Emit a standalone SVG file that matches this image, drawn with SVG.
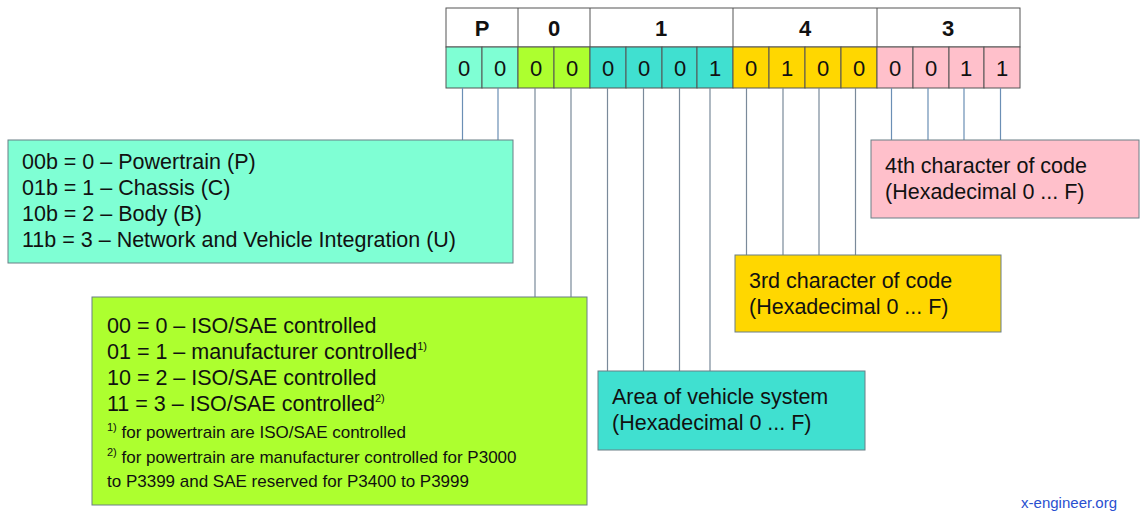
<svg xmlns="http://www.w3.org/2000/svg" width="1146" height="517" viewBox="0 0 1146 517">
<style>
text{font-family:"Liberation Sans",Arial,sans-serif;fill:#111}
.h{font-size:22px;font-weight:bold;text-anchor:middle}
.b{font-size:22px;text-anchor:middle}
.t{font-size:21.5px}
.f{font-size:17px}
.s{font-size:11px}
.c{stroke:#555;stroke-width:1}
.bx{stroke:#6a7f86;stroke-width:1}
.l{stroke:#7a8a9a;stroke-width:1.2;fill:none}
.lb{stroke:#6b8fb5;stroke-width:1.2;fill:none}
</style>
<rect width="1146" height="517" fill="#fff"/>
<g id="table">
<rect x="446" y="8" width="574" height="39" fill="#fff" class="c"/>
<line x1="518" y1="8" x2="518" y2="47" class="c"/><line x1="590" y1="8" x2="590" y2="47" class="c"/><line x1="733" y1="8" x2="733" y2="47" class="c"/><line x1="877" y1="8" x2="877" y2="47" class="c"/>
<text x="482" y="36" class="h">P</text><text x="554" y="36" class="h">0</text><text x="661" y="36" class="h">1</text><text x="805" y="36" class="h">4</text><text x="948" y="36" class="h">3</text>
<g class="c">
<rect x="446" y="47" width="36" height="41" fill="#7fffd4"/><rect x="482" y="47" width="36" height="41" fill="#7fffd4"/>
<rect x="518" y="47" width="36" height="41" fill="#adff2f"/><rect x="554" y="47" width="36" height="41" fill="#adff2f"/>
<rect x="590" y="47" width="36" height="41" fill="#40e0d0"/><rect x="626" y="47" width="36" height="41" fill="#40e0d0"/><rect x="662" y="47" width="35" height="41" fill="#40e0d0"/><rect x="697" y="47" width="36" height="41" fill="#40e0d0"/>
<rect x="733" y="47" width="36" height="41" fill="#ffd700"/><rect x="769" y="47" width="36" height="41" fill="#ffd700"/><rect x="805" y="47" width="36" height="41" fill="#ffd700"/><rect x="841" y="47" width="36" height="41" fill="#ffd700"/>
<rect x="877" y="47" width="36" height="41" fill="#ffc0cb"/><rect x="913" y="47" width="36" height="41" fill="#ffc0cb"/><rect x="949" y="47" width="35" height="41" fill="#ffc0cb"/><rect x="984" y="47" width="36" height="41" fill="#ffc0cb"/>
</g>
<g class="b" text-anchor="middle">
<text x="464" y="76" class="b">0</text><text x="500" y="76" class="b">0</text><text x="536" y="76" class="b">0</text><text x="572" y="76" class="b">0</text>
<text x="608" y="76" class="b">0</text><text x="644" y="76" class="b">0</text><text x="680" y="76" class="b">0</text><text x="715" y="76" class="b">1</text>
<text x="751" y="76" class="b">0</text><text x="787" y="76" class="b">1</text><text x="823" y="76" class="b">0</text><text x="859" y="76" class="b">0</text>
<text x="895" y="76" class="b">0</text><text x="931" y="76" class="b">0</text><text x="966" y="76" class="b">1</text><text x="1002" y="76" class="b">1</text>
</g>
</g>
<g id="connectors">
<path class="lb" d="M462.5 88V140M498 88V140M891.5 88V140M928 88V140M964 88V140M1000.5 88V140"/>
<path class="l" d="M535 88V297M571 88V297M607.5 88V371M643.5 88V371M679.5 88V371M710 88V371M746.5 88V255M783 88V255M819 88V255M855.5 88V255"/>
</g>
<g id="type">
<rect x="8" y="140" width="505" height="123" fill="#7fffd4" class="bx"/>
<text x="22" y="169" class="t">00b = 0 – Powertrain (P)</text>
<text x="22" y="195" class="t">01b = 1 – Chassis (C)</text>
<text x="22" y="221" class="t">10b = 2 – Body (B)</text>
<text x="22" y="247" class="t">11b = 3 – Network and Vehicle Integration (U)</text>
</g>
<g id="control">
<rect x="92" y="297" width="495" height="208" fill="#adff2f" class="bx"/>
<text x="107" y="333" class="t">00 = 0 – ISO/SAE controlled</text>
<text x="107" y="359" class="t">01 = 1 – manufacturer controlled<tspan class="s" dy="-9">1)</tspan></text>
<text x="107" y="385" class="t">10 = 2 – ISO/SAE controlled</text>
<text x="107" y="411" class="t">11 = 3 – ISO/SAE controlled<tspan class="s" dy="-9">2)</tspan></text>
<text x="107" y="438" class="f"><tspan class="s" dy="-7">1)</tspan><tspan dy="7"> for powertrain are ISO/SAE controlled</tspan></text>
<text x="107" y="463" class="f"><tspan class="s" dy="-7">2)</tspan><tspan dy="7"> for powertrain are manufacturer controlled for P3000</tspan></text>
<text x="107" y="487" class="f">to P3399 and SAE reserved for P3400 to P3999</text>
</g>
<g id="area">
<rect x="598" y="371" width="267" height="79" fill="#40e0d0" class="bx"/>
<text x="612" y="404" class="t">Area of vehicle system</text>
<text x="612" y="430" class="t">(Hexadecimal 0 ... F)</text>
</g>
<g id="third">
<rect x="735" y="255" width="266" height="77" fill="#ffd700" class="bx"/>
<text x="749" y="288" class="t">3rd character of code</text>
<text x="749" y="314" class="t">(Hexadecimal 0 ... F)</text>
</g>
<g id="fourth">
<rect x="871" y="140" width="268" height="78" fill="#ffc0cb" class="bx"/>
<text x="885" y="173" class="t">4th character of code</text>
<text x="885" y="199" class="t">(Hexadecimal 0 ... F)</text>
</g>
<text x="1117" y="508" text-anchor="end" style="font-size:15px;fill:#2a4fd0">x-engineer.org</text>
</svg>
